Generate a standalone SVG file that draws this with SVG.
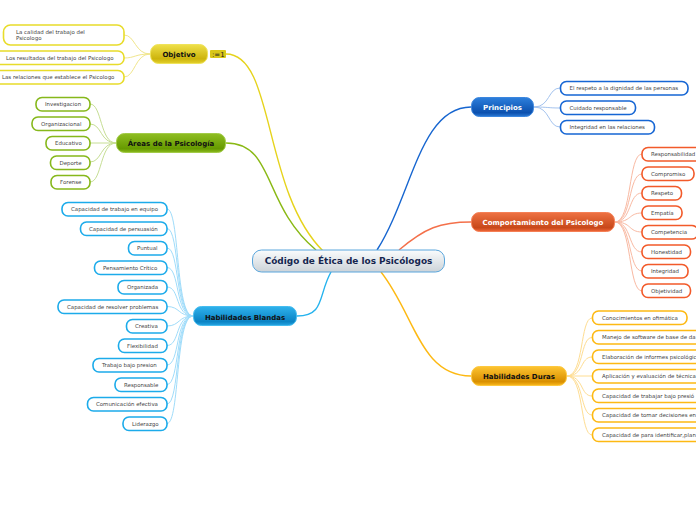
<svg xmlns="http://www.w3.org/2000/svg" width="696" height="520" viewBox="0 0 696 520">
<style>
text{font-family:"DejaVu Sans",Verdana,sans-serif}
.c{font-size:5.45px;fill:#444}
.m{font-size:7px;font-weight:bold;text-anchor:middle}
.box{fill:#fff;stroke-width:1.6}
.l{fill:none;stroke-width:1}
.b{fill:none;stroke-width:1.4}
.mn{stroke-width:1}
</style>
<defs>
<linearGradient id="gy" x1="0" y1="0" x2="0" y2="1"><stop offset="0" stop-color="#efe04a"/><stop offset=".75" stop-color="#cdb40c"/><stop offset="1" stop-color="#e3d02c"/></linearGradient>
<linearGradient id="gg" x1="0" y1="0" x2="0" y2="1"><stop offset="0" stop-color="#8fbe22"/><stop offset=".8" stop-color="#669a00"/><stop offset="1" stop-color="#8cbb1f"/></linearGradient>
<linearGradient id="gb" x1="0" y1="0" x2="0" y2="1"><stop offset="0" stop-color="#2fb2ec"/><stop offset=".8" stop-color="#0a83c4"/><stop offset="1" stop-color="#26a5e2"/></linearGradient>
<linearGradient id="gd" x1="0" y1="0" x2="0" y2="1"><stop offset="0" stop-color="#2d7fdc"/><stop offset=".8" stop-color="#0b50ae"/><stop offset="1" stop-color="#2a78d4"/></linearGradient>
<linearGradient id="gr" x1="0" y1="0" x2="0" y2="1"><stop offset="0" stop-color="#ee7243"/><stop offset=".8" stop-color="#c8481a"/><stop offset="1" stop-color="#f0683a"/></linearGradient>
<linearGradient id="go" x1="0" y1="0" x2="0" y2="1"><stop offset="0" stop-color="#fdc431"/><stop offset=".8" stop-color="#d98f00"/><stop offset="1" stop-color="#fbba1e"/></linearGradient>
<linearGradient id="gc" x1="0" y1="0" x2="0" y2="1"><stop offset="0" stop-color="#fafcfd"/><stop offset="1" stop-color="#ccd3d8"/></linearGradient>
</defs>
<g id="connectors">
<path class="b" stroke="#e6d31c" d="M226 54C275 54 262 190 323 251"/>
<path class="b" stroke="#8ab915" d="M226 143C275 143 262 205 316 250"/>
<path class="b" stroke="#1766d0" d="M471 107C420 107 412 195 377 250"/>
<path class="b" stroke="#f4704a" d="M471 222C440 222 425 228 399 250"/>
<path class="b" stroke="#fdb913" d="M471 376C420 376 415 315 381 272"/>
<path class="b" stroke="#25b3ee" d="M297 316C325 316 318 295 331 272"/>
<g stroke="#f1e68c">
<path class="l" d="M150 54C135 54 135 35 124 35"/><path class="l" d="M150 54C135 54 135 58 124 58"/><path class="l" d="M150 54C135 54 135 77 124 77"/>
</g>
<g stroke="#c6de94">
<path class="l" d="M116 143C100 143 102 104 90 104"/><path class="l" d="M116 143C100 143 102 124 90 124"/><path class="l" d="M116 143H90"/><path class="l" d="M116 143C100 143 102 162 90 162"/><path class="l" d="M116 143C100 143 102 182 90 182"/>
</g>
<g stroke="#9fdcfa">
<path class="l" d="M193 316C175 316 180 209 167 209"/><path class="l" d="M193 316C175 316 180 228.500 167 228.500"/><path class="l" d="M193 316C175 316 180 248 167 248"/><path class="l" d="M193 316C175 316 180 267.500 167 267.500"/><path class="l" d="M193 316C175 316 180 287 167 287"/><path class="l" d="M193 316C178 316 180 306.500 167 306.500"/><path class="l" d="M193 316C178 316 180 326 167 326"/><path class="l" d="M193 316C175 316 180 345.500 167 345.500"/><path class="l" d="M193 316C175 316 180 365 167 365"/><path class="l" d="M193 316C175 316 180 384.500 167 384.500"/><path class="l" d="M193 316C175 316 180 404 167 404"/><path class="l" d="M193 316C175 316 180 423.500 167 423.500"/>
</g>
<g stroke="#a4c3ee">
<path class="l" d="M534 107C550 107 548 88 560 88"/><path class="l" d="M534 107C548 107 548 108 560 108"/><path class="l" d="M534 107C550 107 548 127 560 127"/>
</g>
<g stroke="#f9b9a2">
<path class="l" d="M615 222C632 222 628 154 642 154"/><path class="l" d="M615 222C632 222 628 174 642 174"/><path class="l" d="M615 222C632 222 628 193 642 193"/><path class="l" d="M615 222C632 222 628 213 642 213"/><path class="l" d="M615 222C632 222 628 232 642 232"/><path class="l" d="M615 222C632 222 628 252 642 252"/><path class="l" d="M615 222C632 222 628 271 642 271"/><path class="l" d="M615 222C632 222 628 291 642 291"/>
</g>
<g stroke="#fedd92">
<path class="l" d="M567 376C584 376 580 318 592 318"/><path class="l" d="M567 376C584 376 580 337.500 592 337.500"/><path class="l" d="M567 376C584 376 580 357 592 357"/><path class="l" d="M567 376H592"/><path class="l" d="M567 376C584 376 580 396 592 396"/><path class="l" d="M567 376C584 376 580 415 592 415"/><path class="l" d="M567 376C584 376 580 435 592 435"/>
</g>
</g>
<g id="center"><rect x="252.500" y="250" width="192" height="22" rx="9" fill="url(#gc)" stroke="#5aa6dc" stroke-width="1"/><text x="348.500" y="264.200" text-anchor="middle" font-size="8.950" font-weight="bold" fill="#14264f">Código de Ética de los Psicólogos</text></g>
<g id="objetivo"><rect class="mn" x="150.500" y="44.500" width="57" height="19" rx="8" fill="url(#gy)" stroke="#efe35a"/><text class="m" x="179" y="57" fill="#111">Objetivo</text></g>
<g id="objetivo-badge"><rect x="210" y="50" width="16" height="8" rx="1" fill="#d9c718"/><text x="212" y="56.600" font-size="7" fill="#222">:=1</text></g>
<g id="areas"><rect class="mn" x="116.500" y="133.500" width="109" height="19" rx="8" fill="url(#gg)" stroke="#a2cb48"/><text class="m" x="171" y="146" fill="#111">Áreas de la Psicología</text></g>
<g id="blandas"><rect class="mn" x="193.500" y="306.500" width="103" height="19" rx="8" fill="url(#gb)" stroke="#45bcef"/><text class="m" x="245" y="319.500" fill="#111">Habilidades Blandas</text></g>
<g id="principios"><rect class="mn" x="471.500" y="97.500" width="62" height="19" rx="8" fill="url(#gd)" stroke="#3b86de"/><text class="m" x="502.500" y="110" fill="#fff">Principios</text></g>
<g id="comportamiento"><rect class="mn" x="471.500" y="212.500" width="143" height="19" rx="8" fill="url(#gr)" stroke="#f57f55"/><text class="m" x="543" y="225" fill="#fff">Comportamiento del Psicologo</text></g>
<g id="duras"><rect class="mn" x="471.500" y="366.500" width="95" height="19" rx="8" fill="url(#go)" stroke="#fdc83e"/><text class="m" x="519" y="379" fill="#111">Habilidades Duras</text></g>

<g stroke="#e8dc2a">
<g id="o1"><rect class="box" x="3.500" y="25" width="120.500" height="20" rx="7"/><text class="c" x="16" y="34" stroke="none">La calidad del trabajo del</text><text class="c" x="16" y="40" stroke="none">Psicologo</text></g>
<g id="o2"><rect class="box" x="-8" y="51" width="132" height="13.500" rx="6"/><text class="c" x="6" y="60" stroke="none">Los resultados del trabajo del Psicologo</text></g>
<g id="o3"><rect class="box" x="-8" y="70.500" width="132" height="13.500" rx="6"/><text class="c" x="2" y="79" stroke="none">Las relaciones que establece el Psicologo</text></g>
</g>
<g stroke="#86b81b">
<g id="a1"><rect class="box" x="36" y="97.500" width="54" height="13.500" rx="6"/><text class="c" x="45" y="106" stroke="none">Investigacion</text></g>
<g id="a2"><rect class="box" x="32" y="117" width="58" height="13.500" rx="6"/><text class="c" x="41" y="126" stroke="none">Organizacional</text></g>
<g id="a3"><rect class="box" x="46" y="136.500" width="44" height="13.500" rx="6"/><text class="c" x="55" y="145" stroke="none">Educativo</text></g>
<g id="a4"><rect class="box" x="50.500" y="156" width="39.500" height="13.500" rx="6"/><text class="c" x="59.500" y="165" stroke="none">Deporte</text></g>
<g id="a5"><rect class="box" x="51" y="175.500" width="39" height="13.500" rx="6"/><text class="c" x="60" y="184" stroke="none">Forense</text></g>
</g>
<g stroke="#1cabea">
<g id="b1"><rect class="box" x="62" y="202.500" width="105" height="13.500" rx="6"/><text class="c" x="71" y="211" stroke="none">Capacidad de trabajo en equipo</text></g>
<g id="b2"><rect class="box" x="80.500" y="222" width="86.500" height="13.500" rx="6"/><text class="c" x="89" y="231" stroke="none">Capacidad de persuasión</text></g>
<g id="b3"><rect class="box" x="128.500" y="241.500" width="38.500" height="13.500" rx="6"/><text class="c" x="137" y="250" stroke="none">Puntual</text></g>
<g id="b4"><rect class="box" x="94.500" y="261" width="72.500" height="13.500" rx="6"/><text class="c" x="103" y="270" stroke="none">Pensamiento Crítico</text></g>
<g id="b5"><rect class="box" x="118" y="280.500" width="49" height="13.500" rx="6"/><text class="c" x="127" y="289" stroke="none">Organizada</text></g>
<g id="b6"><rect class="box" x="58" y="300" width="109" height="13.500" rx="6"/><text class="c" x="67" y="309" stroke="none">Capacidad de resolver problemas</text></g>
<g id="b7"><rect class="box" x="126.500" y="319.500" width="40.500" height="13.500" rx="6"/><text class="c" x="135" y="328" stroke="none">Creativa</text></g>
<g id="b8"><rect class="box" x="118.500" y="339" width="48.500" height="13.500" rx="6"/><text class="c" x="127" y="348" stroke="none">Flexibilidad</text></g>
<g id="b9"><rect class="box" x="93" y="358.500" width="74" height="13.500" rx="6"/><text class="c" x="102" y="367" stroke="none">Trabajo bajo presion</text></g>
<g id="b10"><rect class="box" x="115" y="378" width="52" height="13.500" rx="6"/><text class="c" x="124" y="387" stroke="none">Responsable</text></g>
<g id="b11"><rect class="box" x="87.500" y="397.500" width="79.500" height="13.500" rx="6"/><text class="c" x="96" y="406" stroke="none">Comunicación efectiva</text></g>
<g id="b12"><rect class="box" x="123" y="417" width="44" height="13.500" rx="6"/><text class="c" x="132" y="426" stroke="none">Liderazgo</text></g>
</g>
<g stroke="#1666d4">
<g id="p1"><rect class="box" x="560.500" y="81.500" width="127.500" height="13.500" rx="6"/><text class="c" x="569.500" y="90" stroke="none">El respeto a la dignidad de las personas</text></g>
<g id="p2"><rect class="box" x="560.500" y="101" width="75" height="13.500" rx="6"/><text class="c" x="569.500" y="110" stroke="none">Cuidado responsable</text></g>
<g id="p3"><rect class="box" x="560.500" y="120.500" width="94" height="13.500" rx="6"/><text class="c" x="569.500" y="129" stroke="none">Integridad en las relaciones</text></g>
</g>
<g stroke="#f25a2a">
<g id="r1"><rect class="box" x="642" y="147.500" width="60" height="13.500" rx="6"/><text class="c" x="651" y="156" stroke="none">Responsabilidad</text></g>
<g id="r2"><rect class="box" x="642" y="167" width="52" height="13.500" rx="6"/><text class="c" x="651" y="176" stroke="none">Compromiso</text></g>
<g id="r3"><rect class="box" x="642" y="186.500" width="39.500" height="13.500" rx="6"/><text class="c" x="651" y="195" stroke="none">Respeto</text></g>
<g id="r4"><rect class="box" x="642" y="206" width="40" height="13.500" rx="6"/><text class="c" x="651" y="215" stroke="none">Empatía</text></g>
<g id="r5"><rect class="box" x="642" y="225.500" width="56" height="13.500" rx="6"/><text class="c" x="651" y="234" stroke="none">Competencia</text></g>
<g id="r6"><rect class="box" x="642" y="245" width="48.500" height="13.500" rx="6"/><text class="c" x="651" y="254" stroke="none">Honestidad</text></g>
<g id="r7"><rect class="box" x="642" y="264.500" width="46" height="13.500" rx="6"/><text class="c" x="651" y="273" stroke="none">Integridad</text></g>
<g id="r8"><rect class="box" x="642" y="284" width="48.500" height="13.500" rx="6"/><text class="c" x="651" y="293" stroke="none">Objetividad</text></g>
</g>
<g stroke="#fdb913">
<g id="d1"><rect class="box" x="592.500" y="311" width="94.500" height="13.500" rx="6"/><text class="c" x="602" y="320" stroke="none">Conocimientos en ofimática</text></g>
<g id="d2"><rect class="box" x="592.500" y="330.500" width="120" height="13.500" rx="6"/><text class="c" x="602" y="339" stroke="none">Manejo de software de base de da</text></g>
<g id="d3"><rect class="box" x="592.500" y="350" width="120" height="13.500" rx="6"/><text class="c" x="602" y="359" stroke="none">Elaboración de informes psicológic</text></g>
<g id="d4"><rect class="box" x="592.500" y="369.500" width="120" height="13.500" rx="6"/><text class="c" x="602" y="378" stroke="none">Aplicación y evaluación de técnica</text></g>
<g id="d5"><rect class="box" x="592.500" y="389" width="120" height="13.500" rx="6"/><text class="c" x="602" y="398" stroke="none">Capacidad de trabajar bajo presió</text></g>
<g id="d6"><rect class="box" x="592.500" y="408.500" width="120" height="13.500" rx="6"/><text class="c" x="602" y="417" stroke="none">Capacidad de tomar decisiones en</text></g>
<g id="d7"><rect class="box" x="592.500" y="428" width="120" height="13.500" rx="6"/><text class="c" x="602" y="437" stroke="none">Capacidad de para identificar,plan</text></g>
</g>
</svg>
